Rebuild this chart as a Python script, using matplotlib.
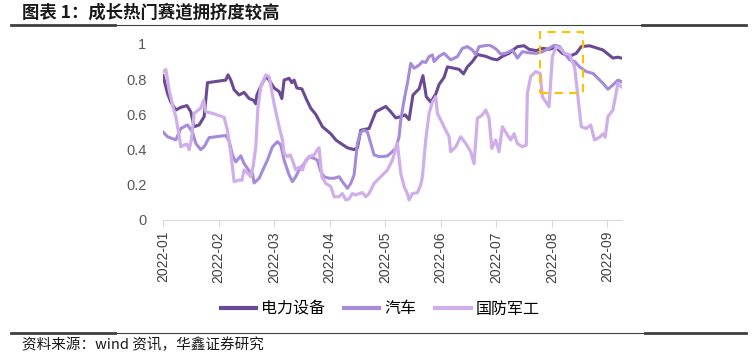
import matplotlib
matplotlib.use("Agg")
import matplotlib.pyplot as plt
from matplotlib.lines import Line2D
from matplotlib.patches import Rectangle

plt.rcParams['font.family'] = ['Noto Sans CJK SC', 'DejaVu Sans']

# x positions are in months since 2022-01-01 (axis has equal monthly spacing)
month_labels = ['2022-01', '2022-02', '2022-03', '2022-04', '2022-05',
                '2022-06', '2022-07', '2022-08', '2022-09']
series_names = ['电力设备', '汽车', '国防军工']

dianli_x = [0.00, 0.08, 0.14, 0.23, 0.32, 0.43, 0.50, 0.56, 0.65, 0.74, 0.80,
            1.13, 1.17, 1.22, 1.28, 1.37, 1.46, 1.55, 1.63, 1.67, 1.69, 1.76,
            1.85, 1.91, 2.00, 2.09, 2.14, 2.18, 2.27, 2.32, 2.36, 2.41, 2.50,
            2.59, 2.66, 2.75, 2.87, 3.02, 3.11, 3.20, 3.32, 3.44, 3.50, 3.56,
            3.71, 3.83, 4.01, 4.10, 4.19, 4.28, 4.36, 4.43, 4.50, 4.61, 4.68,
            4.74, 4.82, 4.91, 4.97, 5.06, 5.12, 5.24, 5.33, 5.41, 5.48, 5.57,
            5.66, 5.81, 5.93, 6.02, 6.11, 6.23, 6.38, 6.50, 6.59, 6.72, 6.83,
            6.95, 7.08, 7.19, 7.32, 7.44, 7.53, 7.68, 7.83, 7.92, 8.01, 8.10,
            8.19, 8.25]
dianli_y = [0.82, 0.72, 0.67, 0.625, 0.64, 0.65, 0.615, 0.53, 0.54, 0.587, 0.78,
            0.795, 0.825, 0.795, 0.74, 0.71, 0.725, 0.69, 0.68, 0.66, 0.71, 0.76,
            0.815, 0.795, 0.75, 0.73, 0.69, 0.795, 0.805, 0.78, 0.795, 0.75, 0.745,
            0.68, 0.635, 0.60, 0.53, 0.49, 0.455, 0.435, 0.41, 0.40, 0.41, 0.51,
            0.52, 0.615, 0.645, 0.615, 0.58, 0.587, 0.597, 0.57, 0.71, 0.745, 0.82,
            0.70, 0.67, 0.715, 0.77, 0.81, 0.87, 0.862, 0.856, 0.83, 0.87, 0.90,
            0.94, 0.93, 0.915, 0.91, 0.93, 0.947, 0.985, 0.99, 0.97, 0.962, 0.975,
            0.97, 0.98, 0.947, 0.93, 0.947, 0.985, 0.99, 0.975, 0.966, 0.943, 0.92,
            0.925, 0.92]

qiche_x = [0.00, 0.08, 0.23, 0.32, 0.44, 0.53, 0.59, 0.68, 0.74, 0.83, 1.13,
           1.19, 1.25, 1.31, 1.40, 1.46, 1.55, 1.61, 1.64, 1.73, 1.82, 1.88,
           1.97, 2.06, 2.12, 2.18, 2.27, 2.33, 2.39, 2.45, 2.54, 2.63, 2.72,
           2.78, 2.84, 2.90, 2.99, 3.08, 3.17, 3.23, 3.32, 3.38, 3.44, 3.50,
           3.56, 3.62, 3.68, 3.74, 3.80, 3.89, 3.95, 4.04, 4.10, 4.19, 4.25,
           4.28, 4.34, 4.40, 4.46, 4.52, 4.61, 4.67, 4.73, 4.79, 4.85, 4.88,
           4.97, 5.06, 5.12, 5.18, 5.30, 5.39, 5.48, 5.57, 5.63, 5.69, 5.87,
           5.93, 6.00, 6.08, 6.17, 6.29, 6.38, 6.47, 6.59, 6.72, 6.83, 6.95,
           7.05, 7.14, 7.23, 7.32, 7.41, 7.50, 7.62, 7.74, 7.83, 7.92, 8.01,
           8.10, 8.19, 8.25]
qiche_y = [0.50, 0.473, 0.455, 0.52, 0.54, 0.50, 0.435, 0.40, 0.416, 0.468, 0.48,
           0.45, 0.37, 0.33, 0.365, 0.32, 0.28, 0.265, 0.21, 0.237, 0.30, 0.34,
           0.416, 0.445, 0.426, 0.34, 0.256, 0.218, 0.246, 0.284, 0.32, 0.36, 0.35,
           0.34, 0.275, 0.246, 0.237, 0.237, 0.246, 0.218, 0.18, 0.208, 0.256, 0.435,
           0.50, 0.51, 0.50, 0.435, 0.37, 0.36, 0.36, 0.364, 0.38, 0.407, 0.473,
           0.568, 0.68, 0.777, 0.89, 0.862, 0.88, 0.90, 0.895, 0.928, 0.938, 0.90,
           0.93, 0.947, 0.928, 0.91, 0.928, 0.975, 0.985, 0.966, 0.94, 0.985, 0.994,
           0.985, 0.97, 0.943, 0.947, 0.966, 0.92, 0.956, 0.95, 0.947, 0.956, 0.975,
           0.994, 0.985, 0.947, 0.91, 0.90, 0.87, 0.843, 0.833, 0.805, 0.777, 0.743,
           0.767, 0.795, 0.786]

guofang_x = [0.00, 0.05, 0.11, 0.17, 0.23, 0.29, 0.32, 0.38, 0.43, 0.47, 0.51,
             0.56, 0.68, 0.73, 0.77, 0.89, 1.10, 1.16, 1.22, 1.28, 1.37, 1.42,
             1.46, 1.51, 1.58, 1.62, 1.67, 1.71, 1.76, 1.85, 1.91, 2.00, 2.09,
             2.15, 2.18, 2.24, 2.29, 2.33, 2.39, 2.45, 2.51, 2.57, 2.63, 2.72,
             2.78, 2.81, 2.83, 2.86, 2.93, 3.02, 3.08, 3.17, 3.23, 3.29, 3.35,
             3.41, 3.47, 3.53, 3.59, 3.65, 3.71, 3.80, 3.92, 4.04, 4.13, 4.22,
             4.28, 4.34, 4.40, 4.43, 4.49, 4.58, 4.64, 4.67, 4.73, 4.79, 4.85,
             4.91, 4.94, 5.00, 5.09, 5.15, 5.18, 5.27, 5.30, 5.36, 5.45, 5.54,
             5.60, 5.66, 5.75, 5.81, 5.87, 5.92, 5.99, 6.05, 6.11, 6.20, 6.26,
             6.32, 6.38, 6.47, 6.54, 6.56, 6.62, 6.71, 6.79, 6.83, 6.95, 7.01,
             7.08, 7.15, 7.23, 7.32, 7.41, 7.47, 7.53, 7.62, 7.70, 7.77, 7.86,
             7.92, 7.96, 8.01, 8.10, 8.19, 8.25]
guofang_y = [0.843, 0.855, 0.74, 0.653, 0.587, 0.48, 0.416, 0.426, 0.43, 0.40, 0.455,
             0.606, 0.635, 0.68, 0.615, 0.606, 0.583, 0.51, 0.38, 0.218, 0.227, 0.225,
             0.284, 0.27, 0.246, 0.30, 0.416, 0.643, 0.757, 0.824, 0.815, 0.66, 0.53,
             0.455, 0.38, 0.36, 0.37, 0.34, 0.284, 0.30, 0.284, 0.34, 0.36, 0.37,
             0.40, 0.41, 0.34, 0.246, 0.208, 0.19, 0.132, 0.132, 0.15, 0.114, 0.12,
             0.15, 0.142, 0.15, 0.155, 0.132, 0.15, 0.208, 0.246, 0.284, 0.34, 0.435,
             0.265, 0.19, 0.15, 0.114, 0.15, 0.155, 0.20, 0.246, 0.455, 0.606, 0.67,
             0.70, 0.606, 0.568, 0.51, 0.473, 0.388, 0.416, 0.435, 0.473, 0.435, 0.388,
             0.32, 0.578, 0.597, 0.625, 0.578, 0.407, 0.455, 0.388, 0.53, 0.483, 0.455,
             0.49, 0.434, 0.416, 0.426, 0.72, 0.815, 0.843, 0.833, 0.70, 0.644, 0.928,
             0.985, 0.975, 0.947, 0.94, 0.87, 0.70, 0.53, 0.52, 0.54, 0.455, 0.47,
             0.49, 0.47, 0.587, 0.625, 0.777, 0.757]

# highlighted window (months, value range)
box_x = [6.79, 7.555]
box_y = [0.723, 1.066]

colors = ['#694A93', '#A58BDA', '#CFAEEA']

fig = plt.figure(figsize=(7.53, 3.57), dpi=100)
ax = fig.add_axes([0.2165, 0.3838, 0.61, 0.493])

ax.plot(dianli_x, dianli_y, color=colors[0], lw=2.2, label=series_names[0])
ax.plot(qiche_x, qiche_y, color=colors[1], lw=2.2, label=series_names[1])
ax.plot(guofang_x, guofang_y, color=colors[2], lw=2.3, label=series_names[2])

ax.add_patch(Rectangle((box_x[0], box_y[0]), box_x[1] - box_x[0], box_y[1] - box_y[0],
                       fill=False, edgecolor='#FFC000', lw=1.5, ls=(0, (4, 3)),
                       clip_on=False, zorder=5))

ax.set_xlim(0, 8.27)
ax.set_ylim(0, 1)
ax.set_xticks(range(len(month_labels)))
ax.set_xticklabels(month_labels, rotation=90, fontsize=10,
                   family=['Liberation Sans', 'DejaVu Sans'], color='#404040')
ax.set_yticks([0, 0.2, 0.4, 0.6, 0.8, 1])
ax.set_yticklabels(['0', '0.2', '0.4', '0.6', '0.8', '1'], fontsize=10.5,
                   family=['Liberation Sans', 'DejaVu Sans'], color='#595959')
ax.tick_params(axis='y', length=0, pad=12)
ax.tick_params(axis='x', length=5, color='#D9D9D9', pad=3)
for s in ['left', 'right', 'top']:
    ax.spines[s].set_visible(False)
ax.spines['bottom'].set_color('#D9D9D9')

leg = fig.legend(loc='center', bbox_to_anchor=(0.505, 1 - 309 / 357), ncol=3,
                 frameon=False, fontsize=11.5, handlelength=2.2, handletextpad=0.3,
                 columnspacing=1.2)
for h in leg.get_lines():
    h.set_linewidth(3)

# title and source
fig.text(22 / 753, 1 - 13 / 357, '图表 1：成长热门赛道拥挤度较高', fontsize=12.5,
         fontweight='bold', va='center', ha='left', color='#1a1a1a')
fig.text(22 / 753, 1 - 345 / 357, '资料来源：wind 资讯，华鑫证券研究', fontsize=10.5,
         va='center', ha='left', color='#1a1a1a')

# rule lines
def hline(y, x0, x1, lw):
    fig.add_artist(Line2D([x0 / 753, x1 / 753], [1 - y / 357, 1 - y / 357],
                          transform=fig.transFigure, color='#404040', lw=lw))

hline(24.5, 11, 746, 0.8)
hline(24.5, 11, 115, 2.0)
hline(24.5, 642, 746, 2.0)
hline(332.7, 11, 746, 0.8)
hline(332.7, 11, 115, 2.0)
hline(332.7, 645, 746, 2.0)

fig.savefig('out.png', dpi=100)
